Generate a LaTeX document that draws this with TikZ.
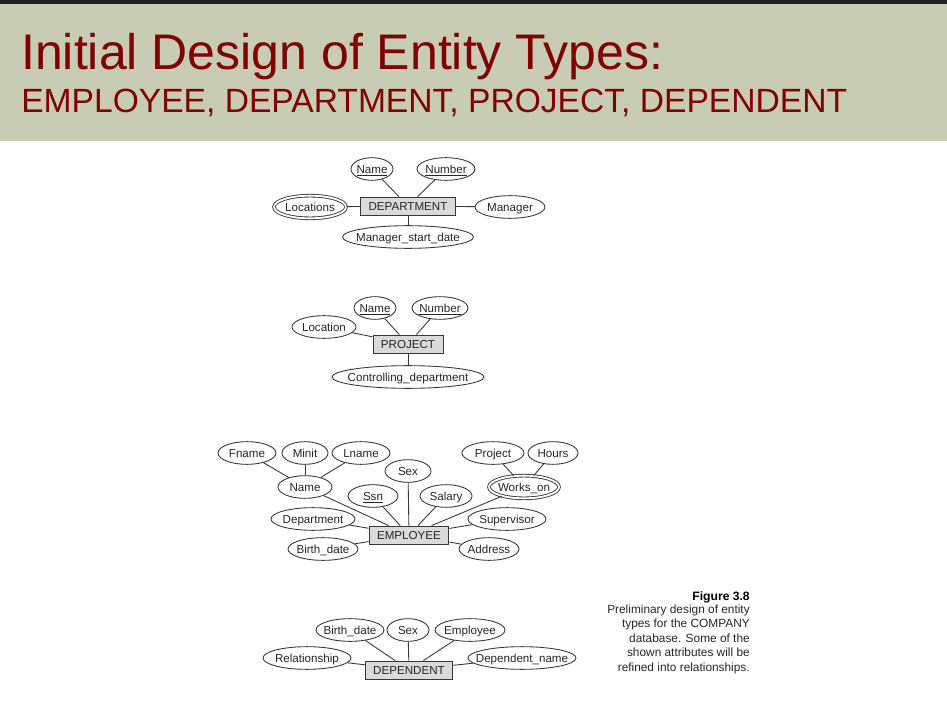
\documentclass[tikz,border=0pt]{standalone}
\usepackage{fontspec}
\setmainfont{Liberation Sans}
\usetikzlibrary{shapes.geometric}
\definecolor{bandc}{RGB}{200,204,180}
\definecolor{titlec}{RGB}{128,0,0}
\definecolor{linec}{RGB}{55,55,55}
\definecolor{boxc}{RGB}{218,218,218}
\definecolor{topbar}{RGB}{34,34,34}
\begin{document}
\begin{tikzpicture}[x=0.75pt,y=-0.75pt,
  erfont/.style={font=\fontsize{8.7}{10}\selectfont,text=black!85,
    text height=6.2pt,text depth=0pt},
  attr/.style={ellipse,draw=linec,line width=0.65pt,fill=white,inner sep=0pt,erfont,
    minimum height=17pt,minimum width=#1*0.75pt,
    execute at begin node={\hbox to 0pt\bgroup\hss},
    execute at end node={\hss\egroup}},
  multi/.style={attr=#1,double=white,double distance=1.4pt},
  ent/.style={rectangle,draw=linec,line width=0.65pt,fill=boxc,minimum height=13.5pt,
    inner xsep=6pt,inner ysep=0pt,erfont},
  conn/.style={draw=linec,line width=0.65pt}]
\useasboundingbox (0,0) rectangle (947,703);
\fill[white] (0,0) rectangle (947,703);
% title band
\fill[topbar] (0,0) rectangle (947,4);
\fill[bandc] (0,4) rectangle (947,141);
\node[anchor=base west,inner sep=0pt,text=titlec,font=\fontsize{37.5}{40}\selectfont] (title) at (21,69) {Initial Design of Entity Types:};
\node[anchor=base west,inner sep=0pt,text=titlec,font=\fontsize{25.2}{28}\selectfont] (subtitle) at (21,112) {EMPLOYEE, DEPARTMENT, PROJECT, DEPENDENT};

% DEPARTMENT
\node[ent] (dept) at (408,206) {DEPARTMENT};
\node[attr=42] (dname) at (372,169) {\underline{Name}};
\node[attr=58] (dnum) at (446,169) {\underline{Number}};
\node[multi=72] (dloc) at (310,207) {Locations};
\node[attr=70] (dmgr) at (510,207) {Manager};
\node[attr=131] (dmsd) at (408,237) {Manager\_start\_date};

% PROJECT
\node[ent] (proj) at (408,344) {PROJECT};
\node[attr=42] (pname) at (375,308) {\underline{Name}};
\node[attr=56] (pnum) at (440,308) {\underline{Number}};
\node[attr=64] (ploc) at (324,327) {Location};
\node[attr=152] (pcd) at (408,377) {Controlling\_department};

% EMPLOYEE
\node[ent] (emp) at (409,535) {EMPLOYEE};
\node[attr=58] (fname) at (247,453) {Fname};
\node[attr=46] (minit) at (305,453) {Minit};
\node[attr=58] (lname) at (361,453) {Lname};
\node[attr=54] (ename) at (305,487) {Name};
\node[attr=46] (sex) at (408,471) {Sex};
\node[attr=50] (ssn) at (373,496) {\underline{Ssn}};
\node[attr=52] (salary) at (446,496) {Salary};
\node[attr=62] (wproj) at (493,453) {Project};
\node[attr=50] (hours) at (553,453) {Hours};
\node[multi=70] (works) at (524,487) {Works\_on};
\node[attr=84] (edept) at (313,519) {Department};
\node[attr=78] (superv) at (507,519) {Supervisor};
\node[attr=70] (ebdate) at (323,549) {Birth\_date};
\node[attr=60] (addr) at (489,549) {Address};

% DEPENDENT
\node[ent] (dep) at (409,670) {DEPENDENT};
\node[attr=68] (dbdate) at (350,630) {Birth\_date};
\node[attr=42] (dsex) at (408,630) {Sex};
\node[attr=70] (demp) at (470,630) {Employee};
\node[attr=88] (drel) at (307,658) {Relationship};
\node[attr=108] (dpname) at (522,658) {Dependent\_name};

% attribute links
\foreach \a/\b in {dname/dept,dnum/dept,dloc/dept,dmgr/dept,dmsd/dept,
  pname/proj,pnum/proj,ploc/proj,pcd/proj,
  fname/ename,minit/ename,lname/ename,ename/emp,sex/emp,ssn/emp,salary/emp,
  wproj/works,hours/works,works/emp,edept/emp,superv/emp,ebdate/emp,addr/emp,
  dbdate/dep,dsex/dep,demp/dep,drel/dep,dpname/dep}
  \draw[conn] (\a) -- (\b);

% figure caption
\node[anchor=base east,inner sep=0pt,font=\fontsize{9.1}{10}\selectfont\bfseries] (figno) at (750,600) {Figure 3.8};
\foreach \ln [count=\i] in {Preliminary design of entity,types for the COMPANY,database. Some of the,shown attributes will be,refined into relationships.}
  \node[anchor=base east,inner sep=0pt,font=\fontsize{8.9}{10}\selectfont,text=black!85] (cap\i) at (750,599+14.4*\i) {\ln};
\end{tikzpicture}
\end{document}
